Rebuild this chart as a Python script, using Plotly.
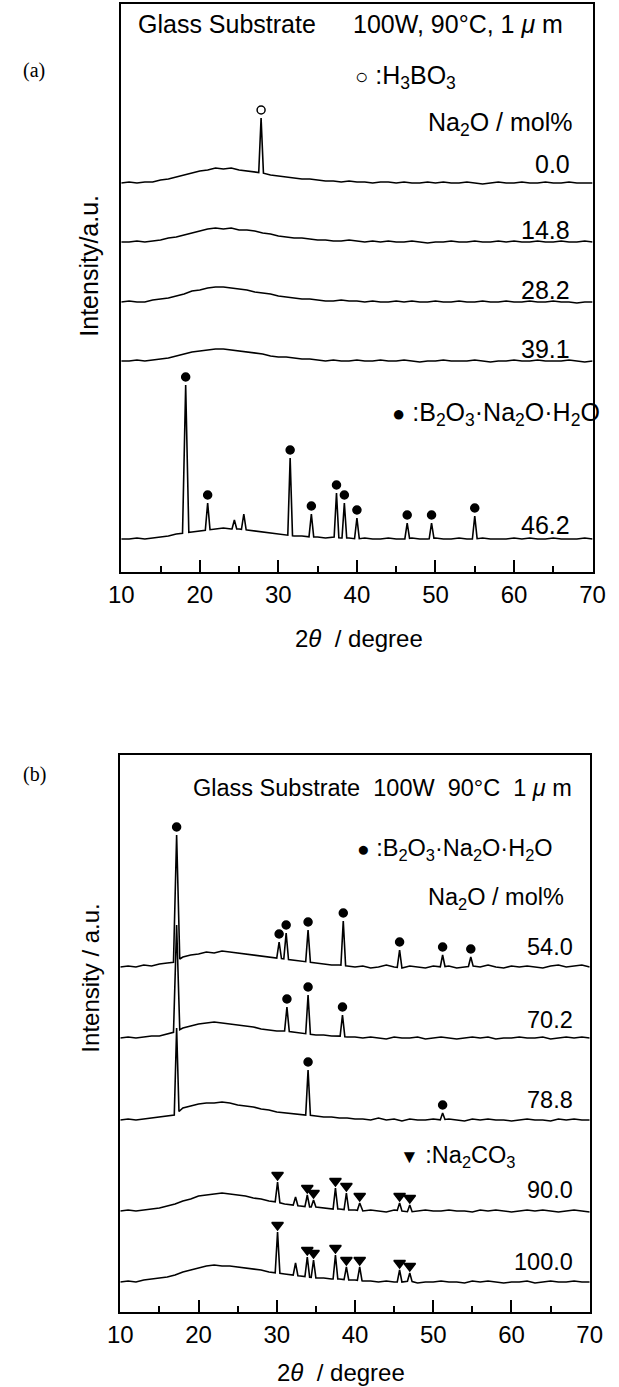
import numpy as np
import plotly.graph_objects as go

W, H = 619, 1387
FONT = "Liberation Sans, Arial, sans-serif"

# 2-theta grid for the amorphous background (degree)
theta_grid = list(range(10, 71))

# ---------------- Panel (a) ----------------
a_labels = ["0.0", "14.8", "28.2", "39.1", "46.2"]
a_offsets = [389, 330, 270, 211, 33]
a_bg = [
    [0, 1, 0, 1, 1, 3, 4, 6, 8, 10, 12,
     13, 15, 14, 15, 13, 12, 11, 10, 8, 7,
     6, 5, 4, 4, 3, 2, 2, 1, 2, 1,
     1, 0, 1, 1, 0, 1, 0, 0, 1, 0,
     1, 0, 0, 1, 0, -1, 0, 1, 0, 0,
     1, 0, 0, 1, 0, 0, 1, 0, 0, 0],
    [0, 0, 1, 0, 1, 2, 4, 5, 7, 9, 11,
     13, 14, 13, 14, 12, 12, 11, 9, 8, 6,
     5, 4, 4, 3, 2, 2, 1, 1, 2, 1,
     0, 1, 0, 1, 0, 0, 1, 0, -1, 0,
     0, 1, 0, 0, 1, 0, 0, 1, 0, 1,
     0, 0, 1, 0, 0, 1, 0, 0, 1, 0],
    [0, 1, 0, 0, 2, 3, 4, 6, 8, 11, 12,
     14, 15, 15, 14, 13, 12, 10, 9, 8, 6,
     5, 4, 3, 3, 2, 1, 1, 2, 1, 1,
     0, 1, 0, 0, 1, 0, 1, 0, 0, 1,
     0, 0, 1, 0, 0, 1, 0, 0, 1, 0,
     0, 1, 0, 0, 1, 0, 0, -1, 0, 0],
    [0, 0, 1, 0, 1, 2, 3, 5, 7, 9, 10,
     11, 12, 12, 11, 10, 9, 8, 7, 5, 4,
     4, 3, 2, 2, 1, 0, 1, 0, 0, 1,
     0, 0, 1, 0, 0, 1, 0, -1, 0, 0,
     1, 0, 0, 0, 1, 0, -1, 0, 0, 1,
     0, 0, 1, 0, 0, 0, 1, 0, -1, 0],
    [0, 0, 1, 0, 1, 2, 3, 5, 6, 7, 8,
     9, 10, 11, 10, 10, 9, 8, 7, 6, 5,
     4, 3, 3, 2, 2, 1, 2, 1, 1, 0,
     1, 0, 0, 1, 0, 0, 1, 0, 0, 1,
     0, 0, 1, 0, 0, 1, 0, 0, 0, 1,
     0, 1, 0, 0, 1, 0, 0, 0, 1, 0],
]
a_marked_pos = [[27.8], [], [], [],
                [18.2, 21.0, 31.5, 34.2, 37.4, 38.4, 40.0, 46.4, 49.5, 55.0]]
a_marked_h = [[65], [], [], [],
              [154, 36, 81, 25, 46, 36, 21, 16, 16, 23]]
a_plain_pos = [[], [], [], [], [24.4, 25.6]]
a_plain_h = [[], [], [], [], [19, 25]]
a_symbols = ["circle-open", None, None, None, "circle"]

# ---------------- Panel (b) ----------------
b_labels = ["54.0", "70.2", "78.8", "90.0", "100.0"]
b_offsets = [345, 274, 192, 101, 30]
b_bg = [
    [0, 1, 0, 2, 1, 3, 4, 5, 10, 12, 13,
     15, 14, 16, 15, 14, 13, 12, 11, 10, 9,
     8, 7, 6, 5, 4, 3, 2, 2, 1, 0,
     1, -1, 0, 2, 0, -1, 1, 0, -1, 1,
     0, 1, -1, 0, 1, 0, 2, 0, -1, 1,
     0, 1, 0, -1, 1, 2, 0, 1, 2, 0],
    [0, 1, 0, 1, 2, 2, 4, 6, 10, 12, 14,
     15, 16, 15, 14, 13, 12, 11, 9, 8, 7,
     7, 6, 5, 4, 3, 3, 2, 2, 1, 1,
     0, 1, 0, -1, 1, 0, 0, 1, -1, 0,
     1, 0, -1, 0, 1, 0, 1, -1, 0, 0,
     1, 0, 0, 1, -1, 0, 1, 0, 1, 0],
    [0, 1, 0, 1, 2, 3, 4, 5, 12, 14, 16,
     17, 17, 18, 17, 15, 14, 13, 11, 10, 8,
     7, 6, 5, 5, 4, 3, 3, 2, 2, 1,
     1, 0, 2, 0, 1, -1, 1, 0, 0, 1,
     0, 1, 0, -1, 1, 0, 1, 0, 0, -1,
     0, 1, 0, 0, -1, 1, 0, 1, 0, 0],
    [0, 1, 0, 1, 2, 3, 5, 7, 10, 12, 15,
     16, 17, 18, 17, 16, 15, 13, 12, 10, 9,
     7, 6, 5, 4, 4, 3, 2, 2, 1, 1,
     0, 1, 0, -1, 1, 0, -1, 0, 1, 0,
     0, 1, 0, 0, -1, 1, 0, 1, 0, -1,
     0, 1, 0, 1, 0, -1, 0, 1, 0, -1],
    [0, 1, 0, 2, 3, 4, 5, 7, 10, 12, 14,
     16, 17, 16, 16, 15, 14, 13, 12, 10, 9,
     8, 7, 6, 5, 4, 4, 3, 3, 2, 2,
     1, 1, 0, 1, 0, 0, 1, -1, 0, 0,
     1, 0, 0, -1, 1, 0, 1, 0, -1, 0,
     0, 1, -1, 0, 1, 0, 0, 1, 0, 0],
]
b_marked_pos = [
    [17.2, 30.3, 31.2, 34.0, 38.5, 45.7, 51.2, 54.8],
    [31.3, 34.0, 38.4],
    [34.0, 51.2],
    [30.1, 33.9, 34.7, 37.5, 38.9, 40.6, 45.7, 47.0],
    [30.1, 33.9, 34.7, 37.5, 38.9, 40.6, 45.7, 47.0],
]
b_marked_h = [
    [132, 25, 34, 37, 46, 17, 12, 10],
    [31, 43, 23],
    [50, 7],
    [29, 16, 11, 23, 18, 8, 8, 6],
    [50, 25, 22, 27, 15, 15, 12, 9],
]
b_plain_pos = [[], [17.2], [17.2], [32.4], [32.4]]
b_plain_h = [[], [113], [92], [14], [19]]
b_symbols = ["circle", "circle", "circle", "triangle-down", "triangle-down"]

x_ticks = [10, 20, 30, 40, 50, 60, 70]


def build_trace(bg, peaks):
    xs = np.array(theta_grid, float)
    ys = np.array(bg, float)
    pts = []
    for x, y in zip(xs, ys):
        if any(abs(x - c) < (0.4 if h > 100 else 0.3) for c, h in peaks):
            continue
        pts.append((x, y))
    for c, h in peaks:
        w = 0.4 if h > 100 else 0.3
        pts.append((c - w, float(np.interp(c - w, xs, ys))))
        pts.append((c, float(h)))
        pts.append((c + w, float(np.interp(c + w, xs, ys))))
    pts.sort()
    return [p[0] for p in pts], [p[1] for p in pts]


fig = go.Figure()


def add_panel(xa, ya, offsets, bgs, mpos, mh, ppos, ph, symbols):
    for i in range(len(offsets)):
        peaks = list(zip(mpos[i], mh[i])) + list(zip(ppos[i], ph[i]))
        xs, ys = build_trace(bgs[i], peaks)
        fig.add_trace(go.Scatter(
            x=xs, y=[v + offsets[i] for v in ys], mode="lines",
            line=dict(color="black", width=1.6), xaxis=xa, yaxis=ya,
            showlegend=False, hoverinfo="skip"))
        if mpos[i]:
            sym = symbols[i]
            size = 10 if sym == "triangle-down" else 8
            off = 8 if sym != "triangle-down" else 7
            fig.add_trace(go.Scatter(
                x=mpos[i], y=[h + offsets[i] + off for h in mh[i]],
                mode="markers", xaxis=xa, yaxis=ya, showlegend=False,
                hoverinfo="skip",
                marker=dict(symbol=sym, size=size, color="black",
                            line=dict(color="black", width=1.5))))


add_panel("x", "y", a_offsets, a_bg, a_marked_pos, a_marked_h,
          a_plain_pos, a_plain_h, a_symbols)
add_panel("x2", "y2", b_offsets, b_bg, b_marked_pos, b_marked_h,
          b_plain_pos, b_plain_h, b_symbols)


def px(x):
    return x / W


def py(y):
    return 1 - y / H


xaxis_style = dict(
    range=[10, 70], tickvals=x_ticks, ticks="inside", ticklen=12,
    tickwidth=2, tickcolor="black",
    minor=dict(ticks="inside", ticklen=6, tickwidth=2, dtick=5,
               tickcolor="black", showgrid=False),
    showline=True, linecolor="black", linewidth=2, mirror=True,
    showgrid=False, zeroline=False,
    tickfont=dict(family=FONT, size=24, color="black"),
)
yaxis_style = dict(showline=True, linecolor="black", linewidth=2,
                   mirror=True, showgrid=False, zeroline=False,
                   showticklabels=False, ticks="")

fig.update_layout(
    width=W, height=H, margin=dict(l=0, r=0, t=0, b=0),
    paper_bgcolor="white", plot_bgcolor="white",
    xaxis=dict(domain=[px(113), px(605)], anchor="y", **xaxis_style),
    yaxis=dict(domain=[py(572), py(4)], range=[0, 568], anchor="x",
               **yaxis_style),
    xaxis2=dict(domain=[px(112), px(602)], anchor="y2", **xaxis_style),
    yaxis2=dict(domain=[py(1312), py(755)], range=[0, 557], anchor="x2",
                **yaxis_style),
)

annotations = []


def ann(text, x, y, xanchor="left", size=24, family=FONT, angle=0):
    annotations.append(dict(
        text=text, x=px(x), y=py(y), xref="paper", yref="paper",
        xanchor=xanchor, yanchor="middle", showarrow=False,
        textangle=angle, font=dict(family=family, size=size, color="black")))


mu = "<i>μ</i>"
theta = "<i>θ</i>"
nbsp = "\u00a0"

# panel (a) texts
ann("(a)", 22, 70, "center", 20, "Liberation Serif, serif")
ann("Glass Substrate", 128, 24, "left", 25)
ann("100W, 90°C, 1 " + mu + nbsp + "m", 353, 24, "left", 25)
ann("<span style='font-size:22px'>○</span> :H<sub>3</sub>BO<sub>3</sub>",
    355, 77, "left", 25)
ann("Na<sub>2</sub>O / mol%", 587, 124, "right", 25)
a_label_y = [164, 230, 290, 349, 525]
for lab, yy in zip(a_labels, a_label_y):
    ann(lab, 584, yy, "right", 25)
ann("<span style='font-size:22px'>●</span> :B<sub>2</sub>O<sub>3</sub>·Na<sub>2</sub>O·H<sub>2</sub>O",
    394, 414, "left", 25)
ann("Intensity/a.u.", 79, 266, "center", 25, angle=-90)
ann("2" + theta + nbsp + " / degree", 361, 638, "center", 24)

# panel (b) texts
ann("(b)", 22, 774, "center", 20, "Liberation Serif, serif")
ann("Glass Substrate" + nbsp * 2 + "100W" + nbsp * 2 + "90°C" + nbsp * 2
    + "1 " + mu + nbsp + "m", 186, 788, "left", 23.5)
ann("<span style='font-size:21px'>●</span> :B<sub>2</sub>O<sub>3</sub>·Na<sub>2</sub>O·H<sub>2</sub>O",
    357, 849, "left", 23.5)
ann("Na<sub>2</sub>O / mol%", 577, 898, "right", 23.5)
b_label_y = [947, 1020, 1100, 1190, 1262]
for lab, yy in zip(b_labels, b_label_y):
    ann(lab, 587, yy, "right", 23.5)
ann("<span style='font-size:19px'>▼</span> :Na<sub>2</sub>CO<sub>3</sub>",
    402, 1156, "left", 23.5)
ann("Intensity / a.u.", 80, 978, "center", 24, angle=-90)
ann("2" + theta + nbsp + " / degree", 342, 1372, "center", 24)

fig.update_layout(annotations=annotations)
fig.write_html("out.html")
